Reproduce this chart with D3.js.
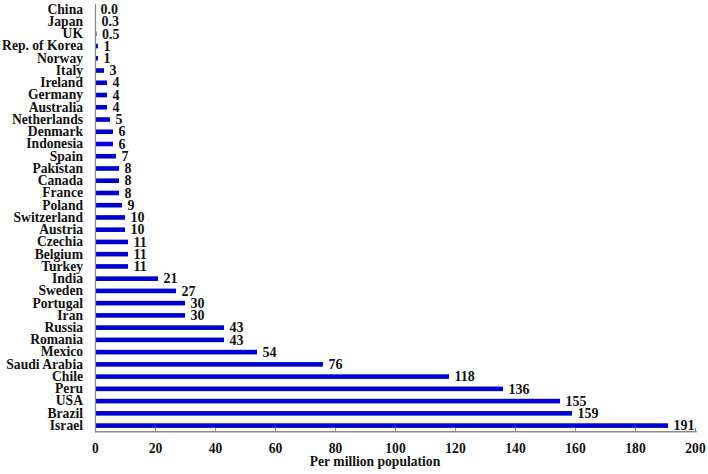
<!DOCTYPE html>
<html><head><meta charset="utf-8">
<script src="https://cdn.jsdelivr.net/npm/d3@7"></script>
<style>body{margin:0;background:#fff}text{font-family:"Liberation Serif","Times New Roman",serif;font-weight:bold;fill:#111}</style>
</head><body><svg id="c" width="708" height="474"></svg>
<script>
const countries = ["China","Japan","UK","Rep. of Korea","Norway","Italy","Ireland","Germany","Australia","Netherlands","Denmark","Indonesia","Spain","Pakistan","Canada","France","Poland","Switzerland","Austria","Czechia","Belgium","Turkey","India","Sweden","Portugal","Iran","Russia","Romania","Mexico","Saudi Arabia","Chile","Peru","USA","Brazil","Israel"];
const values = [0.0,0.3,0.5,1,1,3,4,4,4,5,6,6,7,8,8,8,9,10,10,11,11,11,21,27,30,30,43,43,54,76,118,136,155,159,191];
const valueLabels = ["0.0","0.3","0.5","1","1","3","4","4","4","5","6","6","7","8","8","8","9","10","10","11","11","11","21","27","30","30","43","43","54","76","118","136","155","159","191"];
const xTicks = [0,20,40,60,80,100,120,140,160,180,200];
const xTitle = "Per million population";

const svg = d3.select("#c");
const x = d3.scaleLinear().domain([0,200]).range([95,695]);
const y = d3.scaleBand().domain(countries).range([3.2,431.7]);
const barH = 4.6;
const axisColor = "#8a8a8a";

// bars
svg.append("g").selectAll("rect").data(countries).join("rect")
  .attr("x", x(0))
  .attr("y", (d,i)=> y(d)+y.bandwidth()/2 - barH/2)
  .attr("width", (d,i)=> Math.max(x(values[i])-x(0), 0.8))
  .attr("height", barH)
  .attr("fill", "#0000d2");

// value labels
svg.append("g").selectAll("text").data(countries).join("text")
  .attr("x", (d,i)=> x(values[i]) + 5.5)
  .attr("y", (d,i)=> y(d)+y.bandwidth()/2 + 1.5)
  .attr("dominant-baseline","middle")
  .attr("font-size","14px")
  .text((d,i)=> valueLabels[i]);

// y axis
const yAxis = d3.axisLeft(y).tickSize(0).tickPadding(12);
const gy = svg.append("g").attr("transform",`translate(${x(0)},0)`).call(yAxis);
gy.select(".domain").attr("stroke",axisColor).attr("stroke-width",1.2);
gy.selectAll("text").attr("font-size","13.6px").attr("font-family",null).attr("fill","#111");

// x axis
const xAxis = d3.axisBottom(x).tickValues(xTicks).tickSizeInner(-4).tickSizeOuter(0).tickPadding(12).tickFormat(d3.format("d"));
const gx = svg.append("g").attr("transform",`translate(0,431.7)`).call(xAxis);
gx.select(".domain").attr("stroke",axisColor).attr("stroke-width",1.5).attr("d",`M${x(0)},0H${x(200)+2}`);
gx.selectAll(".tick line").attr("stroke",axisColor);
gx.selectAll("text").attr("font-size","13.6px").attr("font-family",null).attr("fill","#111");

svg.append("text").attr("x",375).attr("y",463).attr("text-anchor","middle")
  .attr("dominant-baseline","middle").attr("font-size","13.6px").text(xTitle);
</script></body></html>
